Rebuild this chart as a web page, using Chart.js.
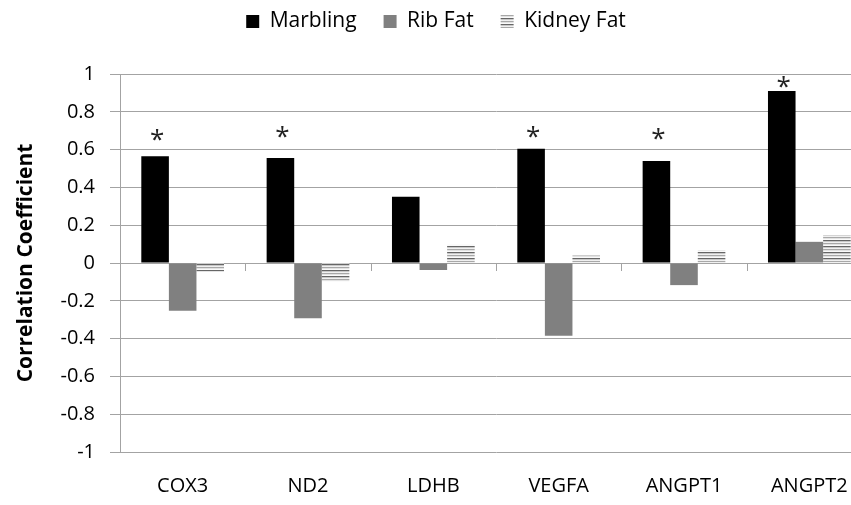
<!DOCTYPE html>
<html lang="en">
<head>
<meta charset="UTF-8">
<title>Correlation Coefficient</title>
<script src="https://cdn.jsdelivr.net/npm/chart.js"></script>
<style>
  html, body { margin: 0; padding: 0; background: #fff; overflow: hidden; }
  #wrap { width: 880px; height: 505px; }
</style>
</head>
<body>
<div id="wrap"><canvas id="corrChart"></canvas></div>
<script>
// data
const genes = ['COX3', 'ND2', 'LDHB', 'VEGFA', 'ANGPT1', 'ANGPT2'];
const marbling = [0.565, 0.556, 0.35, 0.605, 0.54, 0.91];
const ribFat = [-0.253, -0.292, -0.037, -0.385, -0.117, 0.112];
const kidneyFat = [-0.045, -0.099, 0.096, 0.04, 0.067, 0.147];
const sigMarks = ['*', '*', '', '*', '*', '*'];
const sigLevel = [0.685, 0.696, null, 0.696, 0.69, 0.961];

const FONT = '"Open Sans", Lato, sans-serif';
const GRID = '#a3a3a3';

// horizontal stripe fill for kidney fat
function stripes() {
  const c = document.createElement('canvas');
  c.width = 6; c.height = 6;
  const g = c.getContext('2d');
  const rows = ['#666666', '#c8c8c8', '#f0f0f0', '#a8a8a8', '#e2e2e2', '#fafafa'];
  rows.forEach((col, i) => { g.fillStyle = col; g.fillRect(0, i, 6, 1); });
  return g.createPattern(c, 'repeat');
}

// asterisks above significant marbling bars + category ticks on the zero line
const extras = {
  id: 'extras',
  beforeInit(chart) {
    // extra room between legend and plot
    const fit = chart.legend.fit;
    chart.legend.fit = function () {
      fit.call(this);
      this.height += 32;
    };
  },
  afterDatasetsDraw(chart) {
    const ctx = chart.ctx;
    const x = chart.scales.x, y = chart.scales.y;
    const meta = chart.getDatasetMeta(0);
    ctx.save();
    ctx.fillStyle = '#222';
    ctx.font = '26px ' + FONT;
    ctx.textAlign = 'center';
    ctx.textBaseline = 'alphabetic';
    sigMarks.forEach((m, i) => {
      if (!m) return;
      ctx.fillText(m, meta.data[i].x + 2, y.getPixelForValue(sigLevel[i]) + 14);
    });
    const y0 = y.getPixelForValue(0);
    const step = (x.right - x.left) / genes.length;
    ctx.strokeStyle = GRID;
    ctx.lineWidth = 1;
    ctx.beginPath();
    for (let i = 1; i <= genes.length; i++) {
      const px = Math.round(x.left + i * step) + 0.5;
      ctx.moveTo(px, y0);
      ctx.lineTo(px, y0 + 8);
    }
    ctx.stroke();
    ctx.restore();
  }
};

const ctx = document.getElementById('corrChart').getContext('2d');
new Chart(ctx, {
  type: 'bar',
  data: {
    labels: genes,
    datasets: [
      { label: 'Marbling', data: marbling, backgroundColor: '#000000' },
      { label: 'Rib Fat', data: ribFat, backgroundColor: '#808080' },
      { label: 'Kidney Fat', data: kidneyFat, backgroundColor: stripes() }
    ]
  },
  options: {
    responsive: true,
    maintainAspectRatio: false,
    animation: false,
    layout: { padding: { top: -16, bottom: 4, right: 8, left: 0 } },
    datasets: { bar: { categoryPercentage: 0.66, barPercentage: 1.0, borderWidth: 0 } },
    plugins: {
      tooltip: { enabled: false },
      legend: {
        position: 'top',
        labels: {
          color: '#000',
          font: { family: FONT, size: 21 },
          boxWidth: 13,
          boxHeight: 13,
          padding: 27
        }
      }
    },
    scales: {
      x: {
        afterFit: (s) => { s.height = 49; },
        grid: { display: false, drawTicks: false },
        border: { display: false },
        ticks: { color: '#000', font: { family: FONT, size: 20 }, padding: 22, maxRotation: 0 }
      },
      y: {
        min: -1,
        max: 1,
        afterFit: (s) => { s.width = 120; },
        grid: { color: GRID, tickLength: 10, tickColor: GRID },
        border: { color: GRID },
        ticks: {
          stepSize: 0.2,
          color: '#000',
          padding: 15,
          font: { family: FONT, size: 20 },
          callback: (v) => String(Math.round(v * 10) / 10)
        },
        title: {
          display: true,
          text: 'Correlation Coefficient',
          color: '#000',
          font: { family: FONT, size: 21, weight: 'bold' },
          padding: { top: 13 }
        }
      }
    }
  },
  plugins: [extras]
});
</script>
</body>
</html>
